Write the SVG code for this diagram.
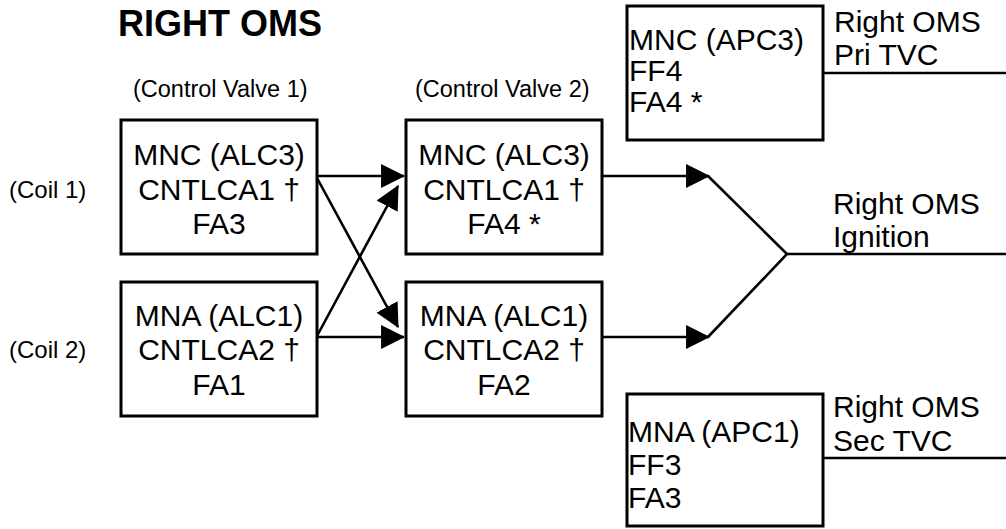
<svg xmlns="http://www.w3.org/2000/svg" width="1006" height="529" viewBox="0 0 1006 529">
<style>
text{font-family:"Liberation Sans",Arial,sans-serif;fill:#000}
.box{fill:none;stroke:#000;stroke-width:3}
.t{font-size:30px}
.c{text-anchor:middle}
.s{font-size:23.5px}
.coil{font-size:24px}
.ttl{font-size:36px;font-weight:bold}
.ln{fill:none;stroke:#000;stroke-width:2.6}
</style>
<defs>
<marker id="ah" markerUnits="userSpaceOnUse" markerWidth="24" markerHeight="24" viewBox="0 0 22 22" refX="21" refY="11" orient="auto">
<path d="M0,0 L22,11 L0,22 Z" fill="#000"/>
</marker>
</defs>
<rect width="1006" height="529" fill="#fff"/>
<text class="ttl" x="118" y="36">RIGHT OMS</text>
<text class="s" x="133" y="97">(Control Valve 1)</text>
<text class="s" x="415" y="97">(Control Valve 2)</text>
<text class="coil" x="9" y="198">(Coil 1)</text>
<text class="coil" x="9" y="358">(Coil 2)</text>
<g id="cv1-coil1">
<rect class="box" x="121" y="120" width="196" height="134"/>
<text class="t c" x="219" y="165">MNC (ALC3)</text>
<text class="t c" x="219" y="200">CNTLCA1 †</text>
<text class="t c" x="219" y="234">FA3</text>
</g>
<g id="cv1-coil2">
<rect class="box" x="121" y="282" width="196" height="134"/>
<text class="t c" x="219" y="326">MNA (ALC1)</text>
<text class="t c" x="219" y="360">CNTLCA2 †</text>
<text class="t c" x="219" y="395">FA1</text>
</g>
<g id="cv2-coil1">
<rect class="box" x="406" y="120" width="196" height="134"/>
<text class="t c" x="504" y="165">MNC (ALC3)</text>
<text class="t c" x="504" y="200">CNTLCA1 †</text>
<text class="t c" x="504" y="234">FA4 *</text>
</g>
<g id="cv2-coil2">
<rect class="box" x="406" y="282" width="196" height="134"/>
<text class="t c" x="504" y="326">MNA (ALC1)</text>
<text class="t c" x="504" y="360">CNTLCA2 †</text>
<text class="t c" x="504" y="395">FA2</text>
</g>
<g id="pri-tvc">
<rect class="box" x="627" y="6" width="196" height="134"/>
<text class="t" x="629" y="50">MNC (APC3)</text>
<text class="t" x="629" y="81">FF4</text>
<text class="t" x="629" y="112">FA4 *</text>
<text class="t" x="834" y="32">Right OMS</text>
<text class="t" x="834" y="65">Pri TVC</text>
</g>
<g id="ignition">
<text class="t" x="833" y="214">Right OMS</text>
<text class="t" x="833" y="247">Ignition</text>
</g>
<g id="sec-tvc">
<rect class="box" x="627" y="394" width="196" height="132"/>
<text class="t" x="628" y="442">MNA (APC1)</text>
<text class="t" x="628" y="475">FF3</text>
<text class="t" x="628" y="508">FA3</text>
<text class="t" x="833" y="417">Right OMS</text>
<text class="t" x="833" y="451">Sec TVC</text>
</g>
<g id="connectors">
<line class="ln" x1="317" y1="176" x2="404" y2="176" marker-end="url(#ah)"/>
<line class="ln" x1="317" y1="337" x2="404" y2="337" marker-end="url(#ah)"/>
<line class="ln" x1="317" y1="178" x2="398" y2="327" marker-end="url(#ah)"/>
<line class="ln" x1="317" y1="336" x2="398" y2="186" marker-end="url(#ah)"/>
<line class="ln" x1="602" y1="176" x2="709" y2="176" marker-end="url(#ah)"/>
<line class="ln" x1="602" y1="337" x2="709" y2="337" marker-end="url(#ah)"/>
<polyline class="ln" points="708,176 787,254 708,337"/>
<line class="ln" x1="787" y1="254" x2="1006" y2="254"/>
<line class="ln" x1="823" y1="73" x2="1006" y2="73"/>
<line class="ln" x1="823" y1="458" x2="1006" y2="458"/>
</g>
</svg>
